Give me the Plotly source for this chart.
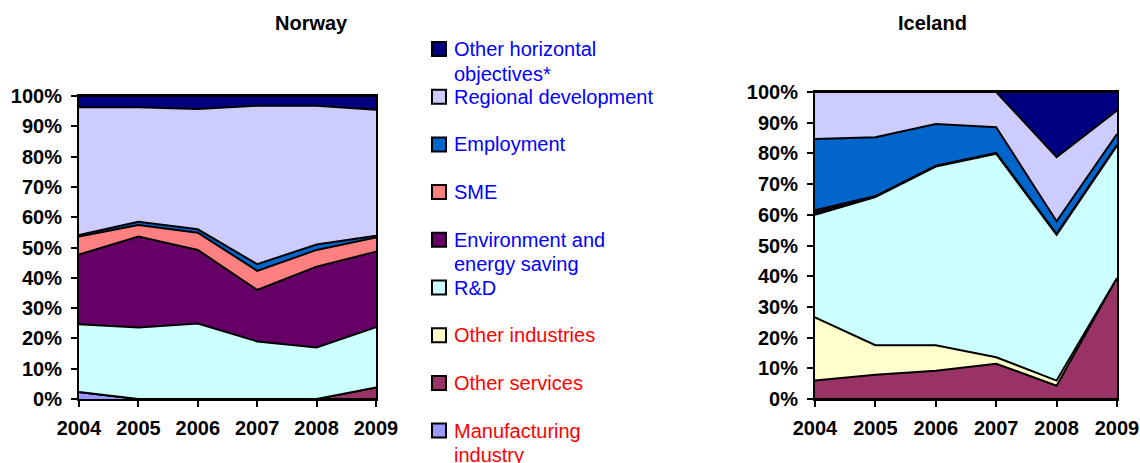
import plotly.graph_objects as go

years = [2004, 2005, 2006, 2007, 2008, 2009]

# Series names, bottom of stack first
series_names = [
    "Manufacturing industry",
    "Other services",
    "Other industries",
    "R&D",
    "Environment and energy saving",
    "SME",
    "Employment",
    "Regional development",
    "Other horizontal objectives*",
]
series_colors = [
    "#9999FF", "#993366", "#FFFFCC", "#CCFFFF", "#660066",
    "#FF8080", "#0066CC", "#CCCCFF", "#000080",
]
legend_labels = [
    "Manufacturing<br>industry",
    "Other services",
    "Other industries",
    "R&D",
    "Environment and<br>energy saving",
    "SME",
    "Employment",
    "Regional development",
    "Other horizontal<br>objectives*",
]
legend_text_colors = ["#FF0000"] * 3 + ["#0000FF"] * 6

# Norway (% share)
norway_manufacturing = [2.3, 0, 0, 0, 0, 0]
norway_other_services = [0, 0, 0, 0, 0, 3.8]
norway_other_industries = [0, 0, 0, 0, 0, 0]
norway_rd = [22.4, 23.6, 24.9, 19.0, 17.0, 19.9]
norway_environment = [23.0, 30.0, 24.3, 17.0, 26.7, 24.9]
norway_sme = [5.9, 3.8, 5.7, 6.3, 5.5, 4.7]
norway_employment = [0.5, 1.1, 1.1, 2.2, 1.8, 0.6]
norway_regional = [42.2, 37.8, 39.7, 52.3, 45.8, 41.6]
norway_other_horizontal = [3.7, 3.7, 4.3, 3.2, 3.2, 4.5]

# Iceland (% share)
iceland_manufacturing = [0, 0, 0, 0, 0, 0]
iceland_other_services = [6.0, 7.9, 9.2, 11.5, 4.3, 39.4]
iceland_other_industries = [20.6, 9.6, 8.3, 2.1, 1.7, 0]
iceland_rd = [33.4, 48.3, 58.3, 66.3, 47.5, 43.1]
iceland_environment = [0.8, 0.3, 0.3, 0.3, 0.3, 0.3]
iceland_sme = [0.7, 0, 0, 0, 0, 0]
iceland_employment = [23.2, 19.2, 13.6, 8.3, 4.1, 3.5]
iceland_regional = [15.3, 14.7, 10.4, 11.5, 20.9, 7.7]
iceland_other_horizontal = [0, 0, 0, 0, 21.2, 6.0]

y_ticks = list(range(0, 101, 10))
y_tick_labels = ["%d%%" % v for v in y_ticks]

norway = [norway_manufacturing, norway_other_services, norway_other_industries,
          norway_rd, norway_environment, norway_sme, norway_employment,
          norway_regional, norway_other_horizontal]
iceland = [iceland_manufacturing, iceland_other_services, iceland_other_industries,
           iceland_rd, iceland_environment, iceland_sme, iceland_employment,
           iceland_regional, iceland_other_horizontal]

W, H = 1140, 463
FONT = "Liberation Sans, Arial, sans-serif"

fig = go.Figure()
for data, xa, ya, grp in [(norway, "x", "y", "no"), (iceland, "x2", "y2", "is")]:
    for name, color, vals in zip(series_names, series_colors, data):
        fig.add_trace(go.Scatter(
            x=years, y=vals, name=name, xaxis=xa, yaxis=ya,
            stackgroup=grp, groupnorm="percent", mode="lines",
            line=dict(color="black", width=2), fillcolor=color,
            showlegend=False, hoverinfo="x+y+name",
        ))

def px_x(p):
    return p / W

def px_y(p):
    return 1 - p / H

axis_common = dict(
    showline=True, linecolor="black", linewidth=2, mirror=True,
    ticks="outside", tickcolor="black", tickwidth=2, ticklen=6,
    showgrid=False, zeroline=False, automargin=False,
    tickfont=dict(family=FONT, size=20, color="black", weight="bold"),
)
xt = dict(tickmode="array", tickvals=years, ticktext=[str(y) for y in years],
          range=[2004, 2009], ticklabelstandoff=4)
yt = dict(tickmode="array", tickvals=y_ticks, ticktext=y_tick_labels,
          range=[0, 100], ticklabelstandoff=5)

fig.update_layout(
    width=W, height=H,
    margin=dict(l=0, r=0, t=0, b=0, autoexpand=False),
    paper_bgcolor="white", plot_bgcolor="white",
    xaxis=dict(domain=[px_x(79), px_x(376)], anchor="y", **xt, **axis_common),
    yaxis=dict(domain=[px_y(399), px_y(96)], anchor="x", **yt, **axis_common),
    xaxis2=dict(domain=[px_x(815), px_x(1117)], anchor="y2", **xt, **axis_common),
    yaxis2=dict(domain=[px_y(399), px_y(92)], anchor="x2", **yt, **axis_common),
    showlegend=False,
)

# Titles
for text, cx in [("Norway", 311), ("Iceland", 932)]:
    fig.add_annotation(text="<b>%s</b>" % text, x=px_x(cx), y=px_y(23),
                       xref="paper", yref="paper", showarrow=False,
                       font=dict(family=FONT, size=20, color="black"),
                       xanchor="center", yanchor="middle")

# Custom legend (top entry first)
legend_top = 49
legend_step = 47.7
line_step = 24.5
for i, idx in enumerate(reversed(range(len(series_names)))):
    cy = legend_top + i * legend_step
    fig.add_shape(type="rect", xref="paper", yref="paper",
                  x0=px_x(432), x1=px_x(446), y0=px_y(cy + 7), y1=px_y(cy - 7),
                  fillcolor=series_colors[idx], line=dict(color="black", width=2))
    for j, part in enumerate(legend_labels[idx].split("<br>")):
        fig.add_annotation(text=part, x=px_x(452), y=px_y(cy + j * line_step),
                           xref="paper", yref="paper", showarrow=False,
                           xanchor="left", yanchor="middle", align="left",
                           font=dict(family=FONT, size=20,
                                     color=legend_text_colors[idx]))

fig.write_html(
    "out.html",
    config={"displayModeBar": False},
    post_script="document.body.style.margin='0';document.body.style.overflow='hidden';",
)
